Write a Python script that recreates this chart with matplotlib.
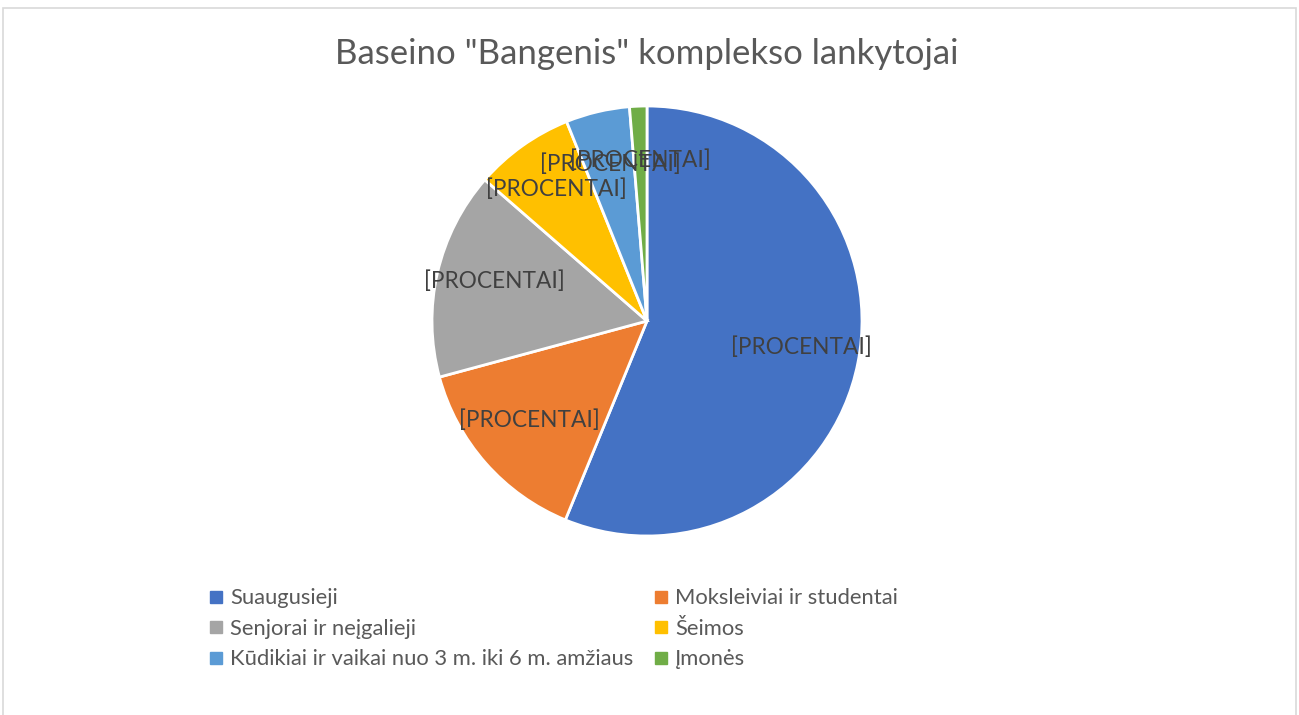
import matplotlib.pyplot as plt
from matplotlib.patches import Rectangle
from matplotlib.lines import Line2D

# data (shares in %)
categories = ['Suaugusieji', 'Moksleiviai ir studentai', 'Senjorai ir neįgalieji',
              'Šeimos', 'Kūdikiai ir vaikai nuo 3 m. iki 6 m. amžiaus', 'Įmonės']
shares = [56.2, 14.6, 15.6, 7.5, 4.8, 1.3]
colors = ['#4472C4', '#ED7D31', '#A5A5A5', '#FFC000', '#5B9BD5', '#70AD47']
label_text = '[PROCENTAI]'
title = 'Baseino "Bangenis" komplekso lankytojai'

plt.rcParams['font.family'] = ['Lato', 'DejaVu Sans']

W, H = 1299, 715
fig = plt.figure(figsize=(W / 100, H / 100), dpi=100)

# chart border
fig.patches.append(Rectangle((3 / W, -0.01), (W - 6) / W, 1 - 8 / H + 0.01,
                             transform=fig.transFigure, fill=False,
                             edgecolor='#D9D9D9', linewidth=1.2))

# pie axes: centre (647, 321), radius 215 px
cx, cy, r = 647, 321, 215
ax = fig.add_axes([(cx - r) / W, (H - cy - r) / H, 2 * r / W, 2 * r / H])
wedges, texts, autotexts = ax.pie(shares, colors=colors, startangle=90, counterclock=False,
                                  radius=1, autopct=lambda p: label_text, pctdistance=0.73,
                                  wedgeprops=dict(edgecolor='white', linewidth=2))
for t in autotexts:
    t.set_fontsize(16.3)
    t.set_color('#404040')
    x, y = t.get_position()
    t.set_position((x, y + 0.02))
ax.set_xlim(-1, 1)
ax.set_ylim(-1, 1)
ax.set_aspect('equal')
ax.axis('off')

fig.text(cx / W, 1 - 54 / H, title, ha='center', va='center', fontsize=25, color='#595959')

# legend, row-wise order in two columns
order = [0, 2, 4, 1, 3, 5]
handles = [Line2D([], [], marker='s', linestyle='none', markersize=9,
                  markerfacecolor=colors[i], markeredgecolor=colors[i]) for i in order]
labels = [categories[i] for i in order]
fig.legend(handles, labels, ncol=2, loc='upper left', bbox_to_anchor=(193 / W, 1 - 573 / H),
           frameon=False, fontsize=15.8, labelcolor='#595959', handlelength=0.7,
           handletextpad=0.3, columnspacing=0.9, labelspacing=0.48, borderpad=0.2)

fig.savefig('out.png', dpi=100, facecolor='white')
